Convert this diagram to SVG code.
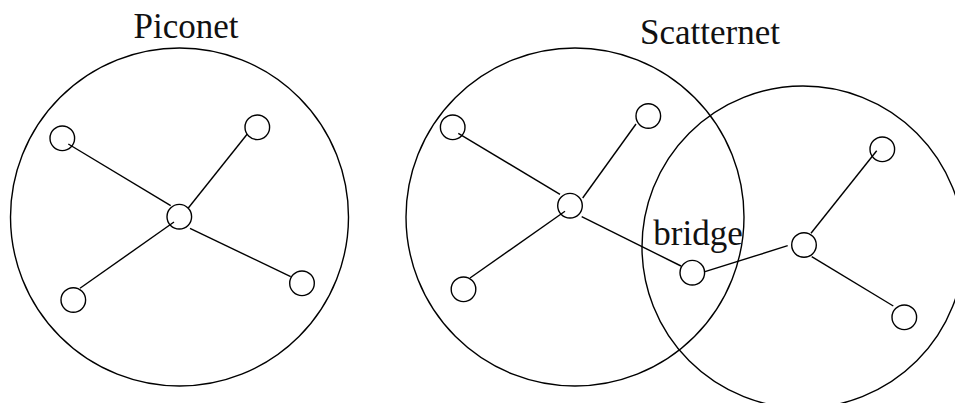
<svg xmlns="http://www.w3.org/2000/svg" width="955" height="403" viewBox="0 0 955 403">
<style>
.big{fill:none;stroke:#000;stroke-width:1.4}
.n{fill:#fff;stroke:#000;stroke-width:1.4}
.e{stroke:#000;stroke-width:1.4;fill:none}
.t{font-family:"Liberation Serif","Times New Roman",serif;font-size:35px;fill:#111}
</style>
<rect width="955" height="403" fill="#fff"/>
<g id="areas">
<circle id="piconet-area" class="big" cx="179.5" cy="217" r="169"/>
<circle id="scatter-left-area" class="big" cx="575" cy="217" r="169"/>
<circle id="scatter-right-area" class="big" cx="803" cy="247" r="161"/>
</g>
<g id="connectors">
<line class="e" x1="68.3" y1="144" x2="170.7" y2="205.7"/>
<line class="e" x1="188.3" y1="208" x2="247.3" y2="134"/>
<line class="e" x1="174" y1="222" x2="80" y2="288.3"/>
<line class="e" x1="190" y1="228.3" x2="290.7" y2="276.7"/>
<line class="e" x1="458.3" y1="133.3" x2="560" y2="194.3"/>
<line class="e" x1="582.7" y1="198" x2="636" y2="124"/>
<line class="e" x1="565" y1="211.3" x2="470" y2="278"/>
<line class="e" x1="581.7" y1="216.7" x2="681" y2="266"/>
<line class="e" x1="705" y1="271.7" x2="787.7" y2="245.7"/>
<line class="e" x1="811" y1="233.3" x2="876.7" y2="150.7"/>
<line class="e" x1="811.7" y1="256.7" x2="893.3" y2="306"/>
</g>
<g id="p-center"><circle class="n" cx="179.3" cy="216.7" r="12.3" fill-opacity="0"/></g>
<g id="p-tl"><circle class="n" cx="62.3" cy="138.3" r="12.3" fill-opacity="0"/></g>
<g id="p-tr"><circle class="n" cx="257.3" cy="127.3" r="12.3"/></g>
<g id="p-bl"><circle class="n" cx="73.3" cy="300" r="12.3"/></g>
<g id="p-br"><circle class="n" cx="302" cy="283.3" r="12.3"/></g>
<g id="s-center"><circle class="n" cx="570" cy="205.7" r="12.3" fill-opacity="0"/></g>
<g id="s-tl"><circle class="n" cx="452.7" cy="127.3" r="12.3" fill-opacity="0"/></g>
<g id="s-tr"><circle class="n" cx="648.3" cy="116" r="12.3"/></g>
<g id="s-bl"><circle class="n" cx="463.5" cy="289.3" r="12.3"/></g>
<g id="bridge"><circle class="n" cx="692.3" cy="272.7" r="12.3"/></g>
<g id="r-center"><circle class="n" cx="804" cy="245" r="12.3"/></g>
<g id="r-top"><circle class="n" cx="882.3" cy="149.3" r="12.3" fill-opacity="0"/></g>
<g id="r-bottom"><circle class="n" cx="904.3" cy="317.3" r="12.3"/></g>
<g id="labels">
<text class="t" x="186" y="37.5" text-anchor="middle">Piconet</text>
<text class="t" x="710" y="43.5" text-anchor="middle">Scatternet</text>
<text class="t" x="698" y="244.5" text-anchor="middle">bridge</text>
</g>
</svg>
